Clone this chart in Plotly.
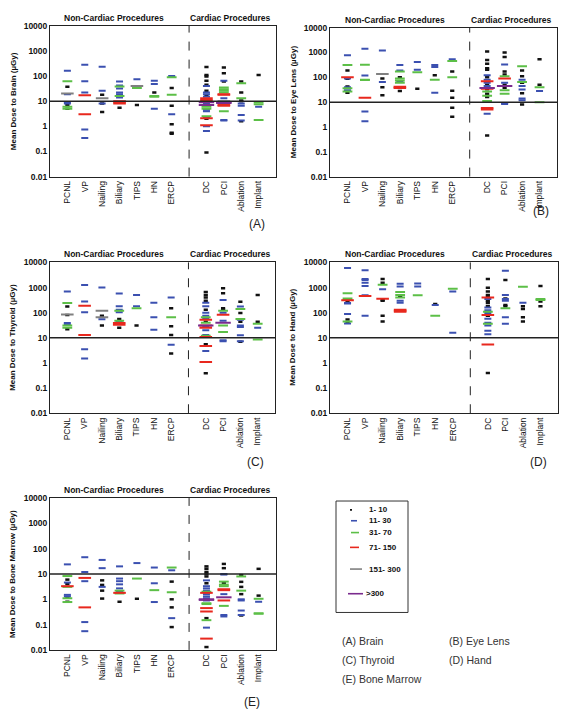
import plotly.graph_objects as go

W, H = 567, 721

categories = ["PCNL", "VP", "Nailing", "Biliary", "TIPS", "HN", "ERCP",
              "DC", "PCI", "Ablation", "Implant"]
y_tick_vals = [0.01, 0.1, 1, 10, 100, 1000, 10000]
y_tick_text = ["0.01", "0.1", "1", "10", "100", "1000", "10000"]
bin_labels = ["1- 10", "11- 30", "31- 70", "71- 150", "151- 300", ">300"]
bin_colors = ["#111111", "#3b50b0", "#5cbf47", "#e8281e", "#808080", "#7a2b8e"]
reference_dose = 10

# (value, sample-size bin index) per category
brain = {
    "PCNL": [(160,1),(62,2),(37,0),(20,4),(19,1),(9,1),(8,1),(7,0),(6,2),(5,0),(5,2)],
    "VP": [(280,1),(62,1),(22,1),(17,3),(3,3),(0.75,1),(0.34,1)],
    "Nailing": [(235,1),(26,1),(18,0),(13,4),(8,0),(8,1),(3.7,0)],
    "Biliary": [(60,1),(42,1),(38,2),(32,1),(22,1),(19,1),(16,2),(14,1),(10,3),(9,3),(8,3),(5.5,0)],
    "TIPS": [(75,1),(40,4),(33,2),(7,0)],
    "HN": [(65,1),(48,1),(22,0),(16,2),(15,2),(5,1)],
    "ERCP": [(100,1),(90,2),(33,0),(18,2),(6.5,0),(3,1),(1.2,0),(0.55,0),(0.5,0)],
    "DC": [(230,0),(110,0),(95,0),(65,0),(45,0),(40,1),(26,0),(22,1),(19,1),(17,0),(15,1),(13,3),(12,1),
           (11,3),(10,1),(9,5),(8,1),(7,0),(7,5),(6,2),(5,2),(4.5,1),(4,1),(2.5,2),(2.2,1),(2.1,3),(2,0),
           (1.1,3),(1,1),(0.65,1),(0.09,0)],
    "PCI": [(220,0),(130,0),(65,1),(60,0),(35,2),(30,2),(26,2),(22,2),(19,3),(18,3),(13,1),(10,4),(9,5),
            (8.5,5),(8,1),(7,3),(6.5,3),(4,2),(1.8,1),(1.7,1)],
    "Ablation": [(60,0),(52,2),(22,0),(13,2),(10.5,0),(10,0),(8,1),(6.5,1),(2.8,1),(1.7,1),(1.6,0)],
    "Implant": [(110,0),(9,2),(7.5,2),(6,1),(1.8,2)],
}
eye_lens = {
    "PCNL": [(770,1),(310,2),(190,0),(100,3),(90,1),(87,0),(43,0),(40,1),(36,2),(30,1),(27,2),(24,0)],
    "VP": [(1400,1),(320,2),(118,1),(80,2),(78,2),(15,3),(4.2,1),(1.7,1)],
    "Nailing": [(1200,1),(135,4),(90,0),(65,1),(40,0),(19,0)],
    "Biliary": [(310,1),(190,1),(170,2),(100,0),(90,2),(75,2),(70,1),(60,2),(42,3),(37,3),(28,0)],
    "TIPS": [(410,1),(200,1),(160,2),(35,0)],
    "HN": [(310,1),(260,1),(120,0),(80,2),(24,1)],
    "ERCP": [(540,1),(450,2),(170,0),(100,2),(29,0),(15,0),(6,0),(2.6,0)],
    "DC": [(1100,0),(500,0),(350,0),(230,0),(200,0),(120,1),(100,0),(80,1),(70,3),(60,1),(50,0),(45,1),
           (37,5),(35,3),(33,0),(27,2),(22,0),(18,2),(16,0),(11,2),(5.8,3),(5,3),(3.4,1),(0.45,0)],
    "PCI": [(1000,0),(660,0),(330,1),(170,0),(130,0),(110,2),(90,3),(60,1),(50,0),(45,5),(38,0),(30,2),
            (22,2),(9,1),(8.5,1)],
    "Ablation": [(280,2),(190,0),(110,0),(80,1),(65,2),(60,0),(45,1),(32,1),(23,0),(14,1),(12,1),(8,0)],
    "Implant": [(530,0),(50,0),(40,2),(28,1),(10,2)],
}
thyroid = {
    "PCNL": [(690,1),(240,2),(175,0),(85,4),(80,0),(39,1),(33,1),(31,2),(25,2),(22,0)],
    "VP": [(1250,1),(280,1),(190,3),(105,1),(13,3),(3.5,1),(1.5,1)],
    "Nailing": [(1000,1),(120,4),(75,0),(66,4),(55,1),(31,0)],
    "Biliary": [(580,1),(180,1),(130,1),(120,2),(103,1),(56,0),(48,2),(44,1),(39,3),(33,3),(25,0)],
    "TIPS": [(510,1),(180,1),(150,2),(31,0)],
    "HN": [(250,1),(66,1),(21,1)],
    "ERCP": [(400,1),(150,0),(66,2),(29,0),(13,0),(5.3,1),(2.4,0)],
    "DC": [(660,0),(500,0),(400,0),(300,0),(250,1),(180,1),(130,0),(100,1),(75,1),(66,2),(56,1),(52,3),
           (44,0),(40,2),(31,3),(31,5),(27,1),(25,3),(20,1),(13,1),(12,0),(12,2),(10.8,3),(5.6,0),(4.7,3),
           (3,1),(1.1,3),(0.39,0)],
    "PCI": [(930,0),(590,0),(320,1),(150,0),(130,0),(120,2),(100,1),(83,3),(48,1),(40,5),(31,2),(17,2),
            (8,1),(7.3,1)],
    "Ablation": [(270,0),(175,1),(140,2),(98,0),(56,2),(52,1),(44,0),(31,1),(27,1),(12.6,1),(7.3,1),(7,0)],
    "Implant": [(500,0),(44,0),(36,2),(25,1),(8.5,2)],
}
hand = {
    "PCNL": [(6000,1),(590,2),(370,2),(320,2),(310,3),(300,0),(240,1),(230,1),(89,1),(54,0),(45,2),(40,0),(37,1)],
    "VP": [(4900,1),(2200,1),(2000,1),(1550,1),(1150,1),(490,1),(460,3),(76,1)],
    "Nailing": [(2200,0),(1550,0),(1300,2),(850,1),(360,3),(320,0),(300,0),(76,0),(45,0)],
    "Biliary": [(1400,1),(1100,1),(660,2),(500,2),(430,0),(400,2),(300,1),(250,1),(130,3),(120,3),(110,3)],
    "TIPS": [(1450,1),(1100,1),(490,2)],
    "HN": [(220,0),(200,1),(76,2)],
    "ERCP": [(900,2),(690,1),(16,1)],
    "DC": [(2200,0),(980,0),(700,0),(500,0),(420,0),(400,3),(370,0),(350,1),(300,0),(250,0),(185,0),(160,1),
           (125,1),(110,0),(110,2),(98,1),(81,3),(76,0),(57,1),(40,1),(36,2),(31,1),(19,1),(14,1),(5.4,3),(0.4,0)],
    "PCI": [(4700,1),(2000,0),(500,1),(370,0),(350,1),(300,1),(200,0),(180,0),(150,2),(66,1),(36,1)],
    "Ablation": [(1070,2),(250,1),(180,0),(140,0),(66,0),(45,0)],
    "Implant": [(1150,0),(350,2),(320,2),(280,0),(180,0)],
}
bone_marrow = {
    "PCNL": [(24,1),(8.3,2),(6,0),(4.6,1),(4,0),(3.3,3),(3.1,2),(1.5,1),(1.3,1),(1.2,0),(1.1,2),(0.8,0),(0.78,2)],
    "VP": [(46,1),(12,1),(7,3),(5.2,1),(0.48,3),(0.126,1),(0.055,1)],
    "Nailing": [(36,1),(17,1),(5.6,0),(3.7,0),(3.1,1),(2.2,0),(1.07,0)],
    "Biliary": [(20,1),(6.6,1),(5.2,1),(3.9,1),(2.7,1),(2.2,2),(2,1),(1.8,3),(1.7,2),(0.8,0)],
    "TIPS": [(27,1),(6.6,2),(1.05,0)],
    "HN": [(18,1),(4.3,1),(2.3,2),(0.78,1)],
    "ERCP": [(18,2),(14,1),(5,0),(1.9,2),(1.0,0),(0.48,0),(0.18,1),(0.08,0)],
    "DC": [(20,0),(16,0),(12,0),(10,0),(8,0),(5.6,1),(4.3,0),(3.3,1),(2.7,1),(2.2,1),(2.0,2),(1.8,3),(1.6,1),
           (1.3,1),(1.1,1),(1.0,5),(0.95,5),(0.9,1),(0.7,2),(0.65,2),(0.45,3),(0.33,3),(0.18,0),(0.15,2),
           (0.076,1),(0.028,3),(0.013,0)],
    "PCI": [(25,0),(17,0),(10,1),(9.5,1),(5,2),(4.3,0),(3.8,2),(3.3,2),(2.5,3),(2.3,3),(1.6,1),(1.2,5),(0.9,3),
            (0.55,2),(0.24,1),(0.21,1)],
    "Ablation": [(9,0),(8,2),(4.9,0),(3.1,0),(2.2,2),(1.6,0),(1.0,1),(0.9,1),(0.36,1),(0.24,1),(0.23,0)],
    "Implant": [(16,0),(1.4,0),(1.05,2),(0.8,1),(0.28,2),(0.27,2)],
}

panels = [
    (brain, "Mean Dose to Brain (µGy)", "(A)", (50, 276, 21, 174), (257, 222)),
    (eye_lens, "Mean Dose to Eye Lens (µGy)", "(B)", (330, 557, 23, 174), (541, 209)),
    (thyroid, "Mean Dose to Thyroid (µGy)", "(C)", (50, 275, 261, 414), (255, 463)),
    (hand, "Mean Dose to Hand (µGy)", "(D)", (330, 558, 261, 414), (538, 463)),
    (bone_marrow, "Mean Dose to Bone Marrow (µGy)", "(E)", (50, 276, 500, 654), (252, 707)),
]
captions = [("(A) Brain", 340, 645), ("(B) Eye Lens", 447, 645), ("(C) Thyroid", 340, 664),
            ("(D) Hand", 447, 664), ("(E) Bone Marrow", 340, 683)]

cat_pos = [i if i < 7 else i + 1 for i in range(len(categories))]
pos_of = dict(zip(categories, cat_pos))
dash_len = [3, 5, 7, 9, 9, 11]
dash_thk = [2.5, 2, 2, 2, 2, 2]

def fx(p):
    return p / W

def fy(p):
    return 1 - p / H

FONT = "Arial, Liberation Sans, sans-serif"
fig = go.Figure()
annotations = []
shapes = []

def note(text, x, y, size, xanchor="center", xref="paper", angle=0, color="#111"):
    annotations.append(dict(text=text, xref=xref, yref="paper", x=x, y=y, xanchor=xanchor,
                            yanchor="middle", textangle=angle, showarrow=False,
                            font=dict(family=FONT, size=size, color=color)))

for k, (data, ytitle, tag, (x0, x1, y0, y1), (tx, ty)) in enumerate(panels):
    n = "" if k == 0 else str(k + 1)
    xa, ya = "x" + n, "y" + n
    for b in range(6):
        xs, ys = [], []
        for cat in categories:
            for v, bb in data[cat]:
                if bb == b:
                    xs.append(pos_of[cat])
                    ys.append(v)
        fig.add_trace(go.Scatter(
            x=xs, y=ys, mode="markers", xaxis=xa, yaxis=ya, showlegend=False,
            marker=dict(symbol="line-ew", size=dash_len[b],
                        line=dict(color=bin_colors[b], width=dash_thk[b])),
            hoverinfo="y"))
    # reference line at 10 uGy
    fig.add_trace(go.Scatter(x=[-1, 12], y=[reference_dose, reference_dose], mode="lines",
                             xaxis=xa, yaxis=ya, showlegend=False,
                             line=dict(color="#222222", width=1.5), hoverinfo="skip"))
    fig.layout["xaxis" + n] = dict(
        domain=[fx(x0), fx(x1)], range=[-1, 12], anchor=ya, tickmode="array",
        tickvals=cat_pos, ticktext=categories, tickangle=-90,
        tickfont=dict(family=FONT, size=8.5, color="#111"), showgrid=False, zeroline=False,
        showline=True, mirror=True, linecolor="#222", linewidth=1, ticks="")
    fig.layout["yaxis" + n] = dict(
        domain=[fy(y1), fy(y0)], type="log", range=[-2, 4], anchor=xa, tickmode="array",
        tickvals=y_tick_vals, ticktext=y_tick_text,
        tickfont=dict(family=FONT, size=8.5, color="#111", weight="bold"), showgrid=False,
        zeroline=False, showline=True, mirror=True, linecolor="#222", linewidth=1, ticks="")
    # divider between non-cardiac and cardiac
    shapes.append(dict(type="line", xref=xa, yref=ya + " domain", x0=7, x1=7, y0=0, y1=1,
                       line=dict(color="#222", width=1, dash="dash")))
    note("<b>Non-Cardiac Procedures</b>", 2.7, fy(y0 - 8), 8.5, xref=xa)
    note("<b>Cardiac Procedures</b>", 9.4, fy(y0 - 8), 8.5, xref=xa)
    note("<b>" + ytitle + "</b>", fx(x0 - 37), fy((y0 + y1) / 2), 8, angle=-90)
    note(tag, fx(tx), fy(ty), 12, color="#222")

# legend box
shapes.append(dict(type="rect", xref="paper", yref="paper", x0=fx(336), x1=fx(408),
                   y0=fy(616), y1=fy(503), line=dict(color="#333", width=1)))
leg_y = [512, 523, 535, 550, 572, 597]
leg_x0 = [350, 351, 351, 350, 350, 348]
leg_len = [2, 6, 8, 9, 12, 15]
for b in range(6):
    shapes.append(dict(type="line", xref="paper", yref="paper", x0=fx(leg_x0[b]),
                       x1=fx(leg_x0[b] + leg_len[b]), y0=fy(leg_y[b]), y1=fy(leg_y[b]),
                       line=dict(color=bin_colors[b], width=1.6)))
    note("<b>" + bin_labels[b] + "</b>", fx(367 if b < 5 else 364), fy(leg_y[b]), 8, xanchor="left")

for text, cx, cy in captions:
    note(text, fx(cx), fy(cy), 10.5, xanchor="left", color="#333")

fig.update_layout(width=W, height=H, margin=dict(l=0, r=0, t=0, b=0),
                  paper_bgcolor="white", plot_bgcolor="white",
                  annotations=annotations, shapes=shapes, showlegend=False)
fig.write_html("out.html", config={"displayModeBar": False},
               post_script="document.body.style.margin='0';document.body.style.padding='0';")
